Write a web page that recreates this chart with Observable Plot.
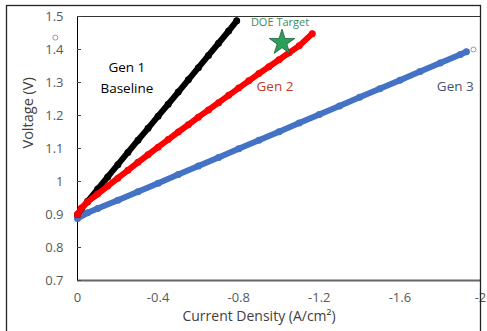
<!DOCTYPE html>
<html>
<head>
<meta charset="utf-8">
<script src="https://cdn.jsdelivr.net/npm/d3@7"></script>
<script src="https://cdn.jsdelivr.net/npm/@observablehq/plot@0.6"></script>
<style>
  html, body { margin: 0; padding: 0; background: #fff; }
  #chart { width: 487px; height: 331px; overflow: hidden; }
  #chart svg text { font-weight: 400 !important; font-family: "Open Sans", Lato, sans-serif !important; }
</style>
</head>
<body>
<div id="chart"></div>
<script>
// Gen 1 Baseline (current density A/cm², voltage V)
const gen1J = [0, -0.02, -0.05, -0.1, -0.15, -0.2, -0.25, -0.3, -0.35, -0.4, -0.45, -0.5, -0.55, -0.6, -0.65, -0.7, -0.75, -0.79];
const gen1V = [0.900, 0.918, 0.940, 0.977, 1.014, 1.051, 1.088, 1.125, 1.161, 1.198, 1.234, 1.271, 1.308, 1.345, 1.382, 1.419, 1.456, 1.487];
// Gen 2
const gen2J = [0, -0.02, -0.05, -0.1, -0.15, -0.2, -0.25, -0.3, -0.35, -0.4, -0.45, -0.5, -0.55, -0.6, -0.65, -0.7, -0.75, -0.8, -0.85, -0.9, -0.95, -1.0, -1.05, -1.1, -1.165];
const gen2V = [0.900, 0.920, 0.938, 0.962, 0.986, 1.010, 1.034, 1.058, 1.081, 1.104, 1.127, 1.150, 1.172, 1.195, 1.217, 1.239, 1.261, 1.283, 1.305, 1.327, 1.348, 1.369, 1.390, 1.411, 1.448];
// Gen 3
const gen3J = [0, -0.05, -0.1, -0.2, -0.3, -0.4, -0.5, -0.6, -0.7, -0.8, -0.9, -1.0, -1.1, -1.2, -1.3, -1.4, -1.5, -1.6, -1.7, -1.8, -1.9, -1.93];
const gen3V = [0.888, 0.905, 0.918, 0.943, 0.969, 0.995, 1.021, 1.047, 1.073, 1.099, 1.125, 1.151, 1.177, 1.203, 1.229, 1.255, 1.281, 1.307, 1.333, 1.359, 1.385, 1.393];
// DOE target
const targetJ = [-1.015];
const targetV = [1.421];
// stray grey markers
const strayJ = [0.11, -1.965];
const strayV = [1.436, 1.400];
// ticks
const xTicks = [0, -0.4, -0.8, -1.2, -1.6, -2];
const yTicks = [0.7, 0.8, 0.9, 1.0, 1.1, 1.2, 1.3, 1.4, 1.5];
// labels
const labelText = ["Gen 1", "Baseline", "Gen 2", "Gen 3"];
const labelJ = [-0.245, -0.245, -0.98, -1.875];
const labelV = [1.345, 1.282, 1.288, 1.288];
const labelColor = ["#000000", "#000000", "#c0392b", "#44546a"];

const toPts = (J, V) => J.map((j, i) => ({j, v: V[i]}));
const g1 = toPts(gen1J, gen1V), g2 = toPts(gen2J, gen2V), g3 = toPts(gen3J, gen3V);
const labels = labelText.map((t, i) => ({t, j: labelJ[i], v: labelV[i], c: labelColor[i]}));

const font = "'Open Sans', Lato, sans-serif";
const fmt = d => String(+(+d).toFixed(1));

const plot = Plot.plot({
  width: 487,
  height: 331,
  marginLeft: 77,
  marginRight: 7,
  marginTop: 16,
  marginBottom: 51,
  style: {fontFamily: font, fontSize: "13px", background: "#fff", overflow: "visible"},
  x: {domain: [0, -2], ticks: xTicks},
  y: {domain: [0.7, 1.5], ticks: yTicks},
  marks: [
    Plot.frame({stroke: "#333", strokeWidth: 1}),
    Plot.ruleY([0.7], {stroke: "#666", strokeWidth: 2}),
    Plot.ruleX([0], {stroke: "#000", strokeWidth: 1}),
    Plot.ruleY(yTicks, {x1: 0, x2: -0.02, stroke: "#444"}),
    Plot.axisY({ticks: yTicks, tickSize: 0, tickPadding: 14, tickFormat: fmt, fontSize: 13, fill: "#595959", label: null}),
    Plot.axisX({ticks: xTicks, tickSize: 0, tickPadding: 12, tickFormat: fmt, fontSize: 13, fill: "#595959", label: null}),
    Plot.text(["Voltage (V)"], {frameAnchor: "left", dx: -49, rotate: -90, fontSize: 14.5, fill: "#404040"}),
    Plot.text(["Current Density (A/cm²)"], {frameAnchor: "bottom", dy: 40, dx: -20, fontSize: 14, fill: "#404040"}),
    Plot.line(g3, {x: "j", y: "v", stroke: "#4472c4", strokeWidth: 6, clip: false}),
    Plot.dot(g3, {x: "j", y: "v", r: 3.5, fill: "#4472c4", clip: false}),
    Plot.line(g1, {x: "j", y: "v", stroke: "#000", strokeWidth: 6}),
    Plot.dot(g1, {x: "j", y: "v", r: 3.5, fill: "#000"}),
    Plot.line(g2, {x: "j", y: "v", stroke: "#ff0000", strokeWidth: 6}),
    Plot.dot(g2, {x: "j", y: "v", r: 3.5, fill: "#ff0000"}),
    Plot.dot(targetJ.map((j, i) => ({j, v: targetV[i]})), {x: "j", y: "v", symbol: "star", r: 8, fill: "#2ca05a", stroke: "#1e5a3a", strokeWidth: 0.8}),
    Plot.text(["DOE Target"], {x: targetJ[0] + 0.01, y: 1.482, fontSize: 11, fill: "#3a8a5a"}),
    Plot.dot(strayJ.map((j, i) => ({j, v: strayV[i]})), {x: "j", y: "v", r: 2.5, fill: "#fff", stroke: "#999", strokeWidth: 1}),
    Plot.text(labels, {x: "j", y: "v", text: "t", fill: "c", fontSize: 13.5})
  ]
});

d3.select(plot).append("rect")
  .attr("x", 6.5).attr("y", 5.5).attr("width", 474).attr("height", 340)
  .attr("fill", "none").attr("stroke", "#222").attr("stroke-width", 1.3);

document.getElementById("chart").appendChild(plot);
</script>
</body>
</html>
